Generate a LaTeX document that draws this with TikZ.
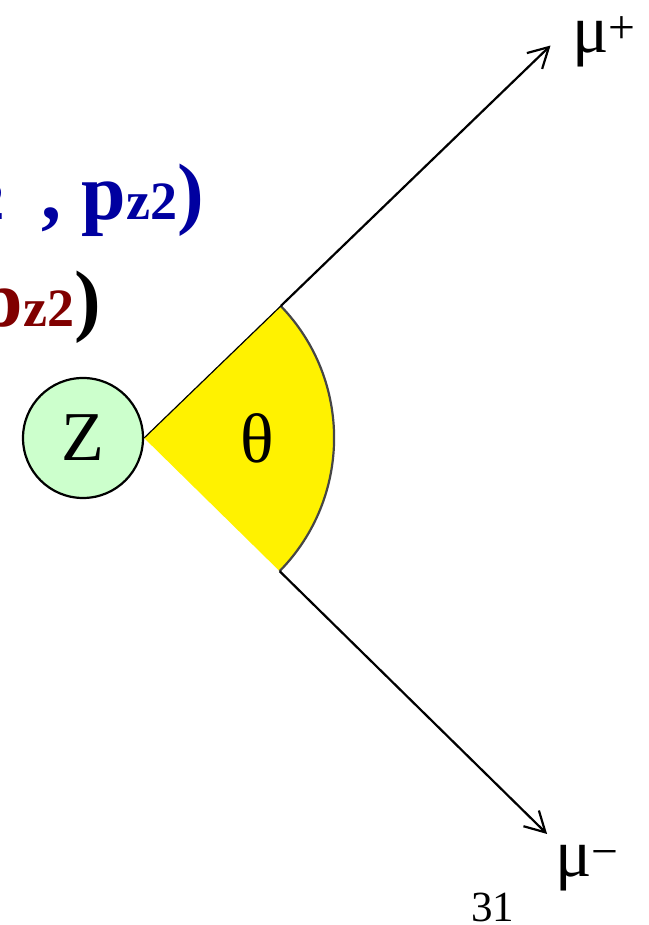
\documentclass[tikz,border=0pt]{standalone}
\usepackage{fontspec}
\setmainfont{Liberation Serif}
\usepackage{xcolor}
\usetikzlibrary{arrows.meta,positioning,calc}
\definecolor{pblue}{RGB}{0,0,160}
\definecolor{pred}{RGB}{128,0,0}
\definecolor{zgreen}{RGB}{204,255,204}
\newcommand{\sm}[1]{{\fontsize{54}{54}\selectfont #1}}

\begin{document}
\begin{tikzpicture}[x=1pt, y=1pt, every node/.style={inner sep=0pt}]
        \tikzset{
            big/.style={font=\fontsize{70}{70}\selectfont},
            mom/.style={font=\fontsize{80}{80}\selectfont\bfseries, anchor=base east},
            arr/.style={-{Straight Barb[length=20pt, width=22pt, line width=2.2pt]}, line width=2.2pt},
            ptl/.style={circle, draw, line width=2.2pt, fill=zgreen, minimum size=120pt}
        }
        \useasboundingbox (0,0) rectangle (648,925);
        \clip (0,0) rectangle (648,925);
        % momentum components, cut at the left edge
        \node[mom, text=pblue] (pb) at (204,705) {p\sm{y2}\hspace{17pt} , p\sm{z2})};
        \node[mom] (pr) at (101,598) {\textcolor{pred}{p\sm{z2}})};
        % decaying Z and the opening angle
        \node[ptl, big] (z) at (83,487) {Z};
        \coordinate (o) at (z.east);
        \coordinate (up) at ($(o)+(44:190)$);
        \coordinate (dn) at ($(o)+(-44.5:190)$);
        \fill[yellow] (o) -- (dn) arc[start angle=-44.5, end angle=44, radius=190] -- cycle;
        \draw[gray!55!black, line width=2.2pt] (dn) arc[start angle=-44.5, end angle=44, radius=190];
        \node[big] (th) at (257,487) {θ};
        % muons
        \coordinate (tp) at ($(o)+(44:565)$);
        \coordinate (tm) at ($(o)+(-44.5:565)$);
        \draw[arr] (up) -- (tp);
        \draw[arr] (dn) -- (tm);
        \draw[line width=1.2pt] (o) -- (up);
        \node[font=\fontsize{68}{68}\selectfont, anchor=base west] (mp) at (572,872) {μ\textsuperscript{+}};
        \node[font=\fontsize{68}{68}\selectfont, anchor=base west] (mm) at (555,48) {μ\textsuperscript{−}};
        \node[font=\fontsize{43}{43}\selectfont, anchor=base west] (pg) at (471,3) {31};
    \end{tikzpicture}
\end{document}
